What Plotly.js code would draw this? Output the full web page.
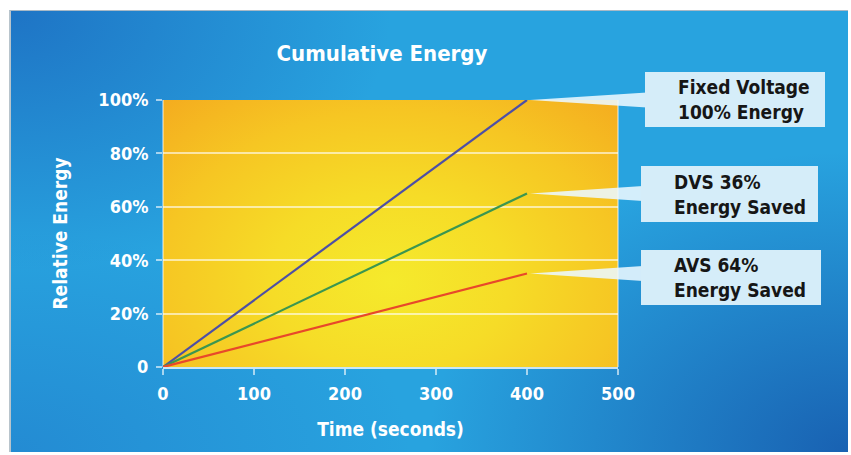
<!DOCTYPE html>
<html>
<head>
<meta charset="utf-8">
<script src="https://cdn.plot.ly/plotly-3.0.1.min.js"></script>
<style>
  html, body { margin: 0; padding: 0; background: #ffffff; width: 851px; height: 455px; overflow: hidden; }
  #panel {
    position: absolute; left: 9px; top: 10px; width: 839px; height: 442px;
    border-left: 2px solid #b8c4cc; border-top: 1px solid #a9b9c6; box-sizing: border-box;
    background:
      radial-gradient(ellipse 420px 300px at 100% 100%, rgba(22,86,170,0.85) 0%, rgba(22,86,170,0) 100%),
      radial-gradient(ellipse 380px 260px at 0% 0%, rgba(26,96,186,0.7) 0%, rgba(26,96,186,0) 100%),
      radial-gradient(ellipse 400px 220px at 0% 100%, rgba(30,110,196,0.45) 0%, rgba(30,110,196,0) 100%),
      #28a3df;
  }
  #plotbg {
    position: absolute; left: 163px; top: 100px; width: 455px; height: 267px;
    background: radial-gradient(ellipse 340px 250px at 50% 68%, #f5ea2c 0%, #f6dc27 35%, #f6c623 68%, #f4ab1f 100%);
  }
  #chart { position: absolute; left: 0; top: 0; width: 851px; height: 455px; }
</style>
</head>
<body>
<div id="panel"></div>
<div id="plotbg"></div>
<div id="chart"></div>
<script>
// ---- data ----
const timeSeconds = [0, 400];
const fixedVoltage = [0, 100];
const dvsEnergy = [0, 65];
const avsEnergy = [0, 35];
const xTickVals = [0, 100, 200, 300, 400, 500];
const yTickVals = [0, 20, 40, 60, 80, 100];
const yTickText = ['0', '20%', '40%', '60%', '80%', '100%'];
const calloutLabels = ['Fixed Voltage<br>100% Energy', 'DVS 36%<br>Energy Saved', 'AVS 64%<br>Energy Saved'];

// ---- layout constants (pixels) ----
const L = 163, T = 100, W = 455, H = 267;
const xMax = 500, yMax = 100;
const px2x = p => (p - L) / W;
const py2y = p => (T + H - p) / H;

const FONT = '"Liberation Sans Narrow", "DejaVu Sans Condensed", "Arial Narrow", sans-serif';

const series = [fixedVoltage, dvsEnergy, avsEnergy];
const colors = ['#4d4fa6', '#3b9650', '#e8482a'];
const boxes = [[645, 72, 825, 127], [641, 166, 818, 222], [641, 250, 821, 305]];

const traces = series.map((s, i) => ({
  x: timeSeconds, y: s, type: 'scatter', mode: 'lines',
  line: { color: colors[i], width: 2.2 }, hoverinfo: 'skip', showlegend: false, cliponaxis: false
}));

const shapes = [];
const annotations = [];
series.forEach((s, i) => {
  const ex = timeSeconds[timeSeconds.length - 1] / xMax;
  const ey = s[s.length - 1] / yMax;
  const b = boxes[i];
  const bx = px2x(b[0] + 2);
  const half = 7.5 / H;
  shapes.push({
    type: 'path', xref: 'paper', yref: 'paper', layer: 'above',
    path: `M ${ex + 3 / W},${ey} L ${bx},${ey + half} L ${bx},${ey - half} Z`,
    fillcolor: 'rgba(236,248,255,0.88)', line: { width: 0 }
  });
  shapes.push({
    type: 'rect', xref: 'paper', yref: 'paper', layer: 'above',
    x0: px2x(b[0]), x1: px2x(b[2]), y0: py2y(b[3]), y1: py2y(b[1]),
    fillcolor: '#d5edf9', line: { width: 0 }
  });
  annotations.push({
    xref: 'paper', yref: 'paper', x: px2x(b[0] + 31), y: py2y((b[1] + b[3]) / 2),
    xanchor: 'left', yanchor: 'middle', align: 'left', showarrow: false,
    text: calloutLabels[i],
    font: { family: FONT, size: 19, color: '#161616', weight: 'bold' }
  });
});

const layout = {
  width: 851, height: 455,
  margin: { l: L, r: 851 - L - W, t: T, b: 455 - T - H },
  paper_bgcolor: 'rgba(0,0,0,0)', plot_bgcolor: 'rgba(0,0,0,0)',
  title: {
    text: 'Cumulative Energy', x: 382 / 851, xanchor: 'center', y: 1 - 53 / 455, yanchor: 'middle',
    font: { family: FONT, size: 22, color: '#ffffff', weight: 'bold' }
  },
  xaxis: {
    range: [0, xMax], tickvals: xTickVals, ticks: 'outside', ticklen: 6, tickwidth: 1.5,
    tickcolor: 'rgba(255,255,255,0.6)', showgrid: false, zeroline: false,
    showline: true, mirror: false, linecolor: 'rgba(255,255,255,0.75)', linewidth: 2,
    ticklabelstandoff: 3,
    tickfont: { family: FONT, size: 18, color: '#ffffff', weight: 'bold' },
    title: { text: 'Time (seconds)', standoff: 20, font: { family: FONT, size: 19, color: '#ffffff', weight: 'bold' } },
    fixedrange: true
  },
  yaxis: {
    range: [0, yMax], tickvals: yTickVals, ticktext: yTickText, ticks: 'outside', ticklen: 6, tickwidth: 2,
    tickcolor: 'rgba(255,255,255,0.6)', showgrid: true, gridcolor: 'rgba(255,255,255,0.6)', gridwidth: 2,
    zeroline: false, showline: false,
    ticklabelstandoff: 4,
    tickfont: { family: FONT, size: 18, color: '#ffffff', weight: 'bold' },
    title: { text: 'Relative Energy', standoff: 25, font: { family: FONT, size: 19, color: '#ffffff', weight: 'bold' } },
    fixedrange: true
  },
  shapes: shapes.concat([
    { type: 'line', xref: 'paper', yref: 'paper', x0: 0, x1: 0, y0: 0, y1: 1, line: { color: 'rgba(255,255,255,0.55)', width: 1.5 }, layer: 'below' },
    { type: 'line', xref: 'paper', yref: 'paper', x0: 1, x1: 1, y0: 0, y1: 1, line: { color: 'rgba(255,255,255,0.55)', width: 1.5 }, layer: 'below' }
  ]),
  annotations: annotations
};

Plotly.newPlot('chart', traces, layout, { staticPlot: true, displayModeBar: false });
</script>
</body>
</html>
